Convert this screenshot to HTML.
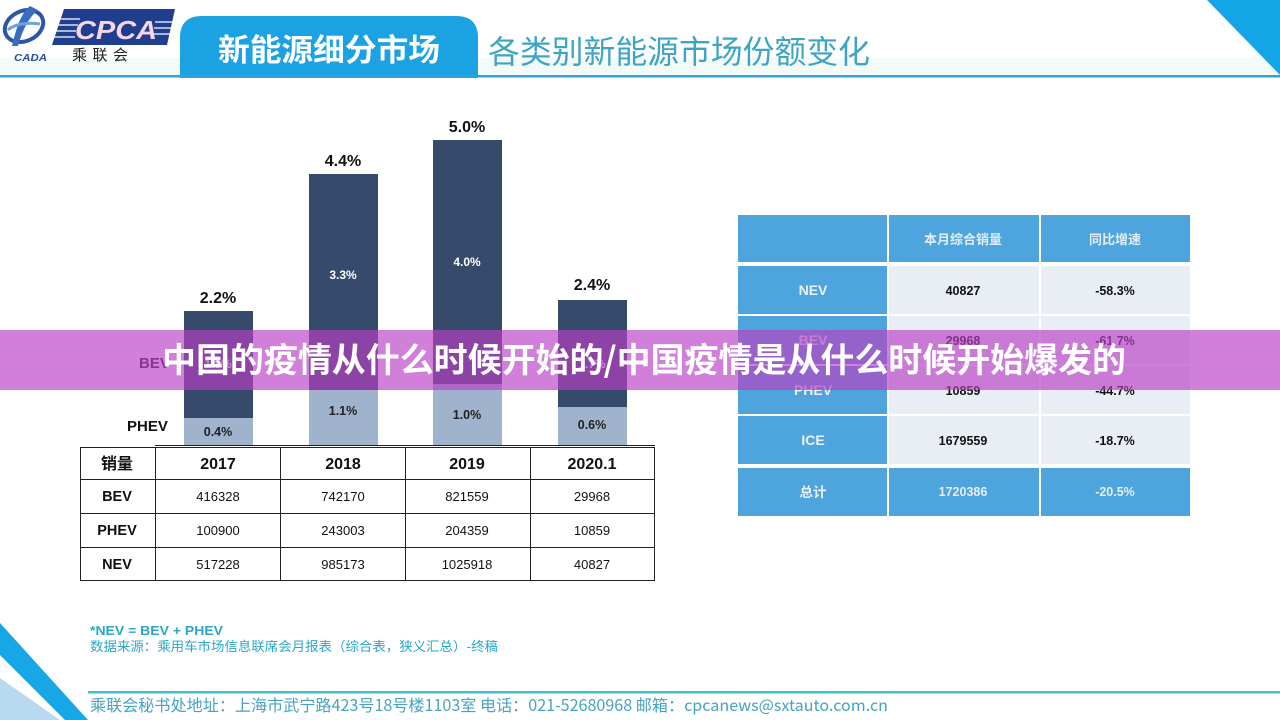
<!DOCTYPE html>
<html>
<head>
<meta charset="utf-8">
<style>
  html,body{margin:0;padding:0;background:#fff;}
  svg{display:block;}
  text{font-family:"Liberation Sans","Noto Sans CJK SC",sans-serif;}
  .cjk{font-family:"Noto Sans CJK SC","WenQuanYi Zen Hei",sans-serif;}
</style>
</head>
<body>
<svg width="1280" height="720" viewBox="0 0 1280 720" xmlns="http://www.w3.org/2000/svg">
  <rect x="0" y="0" width="1280" height="720" fill="#ffffff"/>

  <!-- header faint tint -->
  <rect x="0" y="58" width="1280" height="18" fill="#f3fbfa"/>

  <!-- Logo emblem -->
  <g>
    <ellipse cx="24" cy="26" rx="20" ry="15" fill="none" stroke="#2a55a8" stroke-width="4" transform="rotate(-25 24 26)"/>
    <path d="M30,6 C20,14 16,30 12,46 L18,46 C22,32 28,18 38,10 Z" fill="#3a6cc0"/>
    <path d="M8,30 C14,24 28,22 40,24" fill="none" stroke="#6fa0e0" stroke-width="3"/>
    <text x="14" y="61" font-size="10" font-weight="bold" font-style="italic" fill="#2a4fa0" textLength="33" lengthAdjust="spacingAndGlyphs">CADA</text>
  </g>
  <!-- CPCA box -->
  <polygon points="64,9 175,9 167,45 52,45" fill="#1f3f8e"/>
  <g stroke="#ffffff" stroke-width="1.3">
    <line x1="58" y1="19" x2="80" y2="19"/>
    <line x1="56" y1="25" x2="78" y2="25"/>
    <line x1="55" y1="31" x2="76" y2="31"/>
    <line x1="54" y1="37" x2="75" y2="37"/>
    <line x1="155" y1="22" x2="172" y2="22"/>
    <line x1="154" y1="28" x2="171" y2="28"/>
    <line x1="153" y1="34" x2="170" y2="34"/>
  </g>
  <text x="75" y="39" font-size="26" font-weight="bold" font-style="italic" fill="#f6d6e6" textLength="82" lengthAdjust="spacingAndGlyphs">CPCA</text>
  <text class="cjk" x="72" y="60" font-size="15" fill="#222" textLength="56" lengthAdjust="spacing">乘联会</text>

  <!-- Header tab -->
  <path d="M180,78 V38 Q180,16 202,16 H456 Q478,16 478,38 V78 Z" fill="#1ba2e3"/>
  <text class="cjk" x="218" y="61" font-size="31" font-weight="bold" fill="#ffffff" textLength="222" lengthAdjust="spacingAndGlyphs">新能源细分市场</text>
  <text class="cjk" x="488" y="63" font-size="32" fill="#3ea4c4" textLength="382" lengthAdjust="spacingAndGlyphs">各类别新能源市场份额变化</text>
  <rect x="0" y="75" width="1280" height="2.5" fill="#34a0d8"/>

  <!-- top-right triangle -->
  <polygon points="1207,0 1280,0 1280,75" fill="#14a5e6"/>

  <!-- Bar chart -->
  <rect x="184" y="311" width="69" height="107" fill="#364a6b"/>
  <rect x="184" y="418" width="69" height="27" fill="#9fb3cd"/>
  <rect x="309" y="174" width="69" height="216" fill="#364a6b"/>
  <rect x="309" y="390" width="69" height="55" fill="#9fb3cd"/>
  <rect x="433" y="140" width="69" height="244" fill="#364a6b"/>
  <rect x="433" y="384" width="69" height="61" fill="#9fb3cd"/>
  <rect x="558" y="300" width="69" height="107" fill="#364a6b"/>
  <rect x="558" y="407" width="69" height="38" fill="#9fb3cd"/>
  <line x1="155" y1="445.5" x2="655" y2="445.5" stroke="#222" stroke-width="1"/>

  <g font-weight="bold" text-anchor="middle">
    <text x="218" y="303" font-size="16" fill="#111">2.2%</text>
    <text x="343" y="166" font-size="16" fill="#111">4.4%</text>
    <text x="467" y="132" font-size="16" fill="#111">5.0%</text>
    <text x="592" y="290" font-size="16" fill="#111">2.4%</text>

    <text x="343" y="279" font-size="12" fill="#ffffff">3.3%</text>
    <text x="467" y="266" font-size="12" fill="#ffffff">4.0%</text>
    <text x="218" y="368" font-size="12" fill="#ffffff">1.8%</text>
    <text x="592" y="368" font-size="12" fill="#ffffff">1.7%</text>

    <text x="218" y="436" font-size="12.5" fill="#222">0.4%</text>
    <text x="343" y="415" font-size="12.5" fill="#222">1.1%</text>
    <text x="467" y="419" font-size="12.5" fill="#222">1.0%</text>
    <text x="592" y="429" font-size="12.5" fill="#222">0.6%</text>
  </g>
  <text x="139" y="368" font-size="15" font-weight="bold" fill="#222">BEV</text>
  <text x="127" y="431" font-size="15" font-weight="bold" fill="#111">PHEV</text>

  <!-- Left table -->
  <g fill="none" stroke="#222" stroke-width="1">
    <rect x="80.5" y="447.5" width="574" height="133"/>
    <line x1="80.5" y1="479.5" x2="654.5" y2="479.5"/>
    <line x1="80.5" y1="513.5" x2="654.5" y2="513.5"/>
    <line x1="80.5" y1="547.5" x2="654.5" y2="547.5"/>
    <line x1="155.5" y1="447.5" x2="155.5" y2="580.5"/>
    <line x1="280.5" y1="447.5" x2="280.5" y2="580.5"/>
    <line x1="405.5" y1="447.5" x2="405.5" y2="580.5"/>
    <line x1="530.5" y1="447.5" x2="530.5" y2="580.5"/>
  </g>
  <g text-anchor="middle" fill="#111">
    <text class="cjk" x="117" y="469" font-size="16" font-weight="bold">销量</text>
    <text x="218" y="469" font-size="16" font-weight="bold">2017</text>
    <text x="343" y="469" font-size="16" font-weight="bold">2018</text>
    <text x="467" y="469" font-size="16" font-weight="bold">2019</text>
    <text x="592" y="469" font-size="16" font-weight="bold">2020.1</text>

    <text x="117" y="501" font-size="14.5" font-weight="bold">BEV</text>
    <text x="117" y="535" font-size="14.5" font-weight="bold">PHEV</text>
    <text x="117" y="569" font-size="14.5" font-weight="bold">NEV</text>

    <g font-size="13">
      <text x="218" y="501">416328</text>
      <text x="343" y="501">742170</text>
      <text x="467" y="501">821559</text>
      <text x="592" y="501">29968</text>
      <text x="218" y="535">100900</text>
      <text x="343" y="535">243003</text>
      <text x="467" y="535">204359</text>
      <text x="592" y="535">10859</text>
      <text x="218" y="569">517228</text>
      <text x="343" y="569">985173</text>
      <text x="467" y="569">1025918</text>
      <text x="592" y="569">40827</text>
    </g>
  </g>

  <!-- Right table -->
  <g>
    <rect x="738" y="215" width="149" height="47" fill="#4ea4dc"/>
    <rect x="889" y="215" width="150" height="47" fill="#4ea4dc"/>
    <rect x="1041" y="215" width="149" height="47" fill="#4ea4dc"/>
    <rect x="738" y="266" width="149" height="48" fill="#4ea4dc"/>
    <rect x="889" y="266" width="150" height="48" fill="#e8eef4"/>
    <rect x="1041" y="266" width="149" height="48" fill="#e8eef4"/>
    <rect x="738" y="316" width="149" height="48" fill="#4ea4dc"/>
    <rect x="889" y="316" width="150" height="48" fill="#e8eef4"/>
    <rect x="1041" y="316" width="149" height="48" fill="#e8eef4"/>
    <rect x="738" y="366" width="149" height="48" fill="#4ea4dc"/>
    <rect x="889" y="366" width="150" height="48" fill="#e8eef4"/>
    <rect x="1041" y="366" width="149" height="48" fill="#e8eef4"/>
    <rect x="738" y="416" width="149" height="48" fill="#4ea4dc"/>
    <rect x="889" y="416" width="150" height="48" fill="#e8eef4"/>
    <rect x="1041" y="416" width="149" height="48" fill="#e8eef4"/>
    <rect x="738" y="468" width="149" height="48" fill="#4ea4dc"/>
    <rect x="889" y="468" width="150" height="48" fill="#4ea4dc"/>
    <rect x="1041" y="468" width="149" height="48" fill="#4ea4dc"/>
  </g>
  <g text-anchor="middle">
    <text class="cjk" x="963" y="244" font-size="13" font-weight="bold" fill="#e4edf5">本月综合销量</text>
    <text class="cjk" x="1115" y="244" font-size="13" font-weight="bold" fill="#e4edf5">同比增速</text>

    <g font-size="14" font-weight="bold" fill="#eaf2fa">
      <text x="813" y="295">NEV</text>
      <text x="813" y="345">BEV</text>
      <text x="813" y="395">PHEV</text>
      <text x="813" y="445">ICE</text>
      <text class="cjk" x="813" y="497" font-size="13.5">总计</text>
    </g>
    <g font-size="12.5" font-weight="bold" fill="#111">
      <text x="963" y="295">40827</text>
      <text x="1115" y="295">-58.3%</text>
      <text x="963" y="345">29968</text>
      <text x="1115" y="345">-61.7%</text>
      <text x="963" y="395">10859</text>
      <text x="1115" y="395">-44.7%</text>
      <text x="963" y="445">1679559</text>
      <text x="1115" y="445">-18.7%</text>
    </g>
    <g font-size="12.5" font-weight="bold" fill="#e6eef8">
      <text x="963" y="496">1720386</text>
      <text x="1115" y="496">-20.5%</text>
    </g>
  </g>

  <!-- Notes -->
  <text x="90" y="635" font-size="13" font-weight="bold" fill="#2aa6c8" textLength="133" lengthAdjust="spacingAndGlyphs">*NEV = BEV + PHEV</text>
  <text class="cjk" x="90" y="651" font-size="13" fill="#2aa6c8" textLength="408" lengthAdjust="spacingAndGlyphs">数据来源：乘用车市场信息联席会月报表（综合表，狭义汇总）-终稿</text>

  <!-- Footer -->
  <rect x="88" y="691" width="1192" height="2.5" fill="#3dbfcc"/>
  <text class="cjk" x="90" y="711" font-size="16" fill="#45a3c4" textLength="798" lengthAdjust="spacingAndGlyphs">乘联会秘书处地址：上海市武宁路423号18号楼1103室  电话：021-52680968   邮箱：cpcanews@sxtauto.com.cn</text>

  <!-- bottom-left decoration -->
  <polygon points="0,678 0,720 60,720" fill="#b9d9f1"/>
  <polygon points="0,623 0,655 65,720 88,720" fill="#17a6e6"/>

  <!-- Overlay band -->
  <rect x="0" y="330" width="1280" height="60" fill="rgb(184,64,196)" fill-opacity="0.665"/>
  <text class="cjk" x="162" y="372" font-size="34" font-weight="bold" fill="#ffffff" textLength="964" lengthAdjust="spacingAndGlyphs">中国的疫情从什么时候开始的/中国疫情是从什么时候开始爆发的</text>
</svg>
</body>
</html>
